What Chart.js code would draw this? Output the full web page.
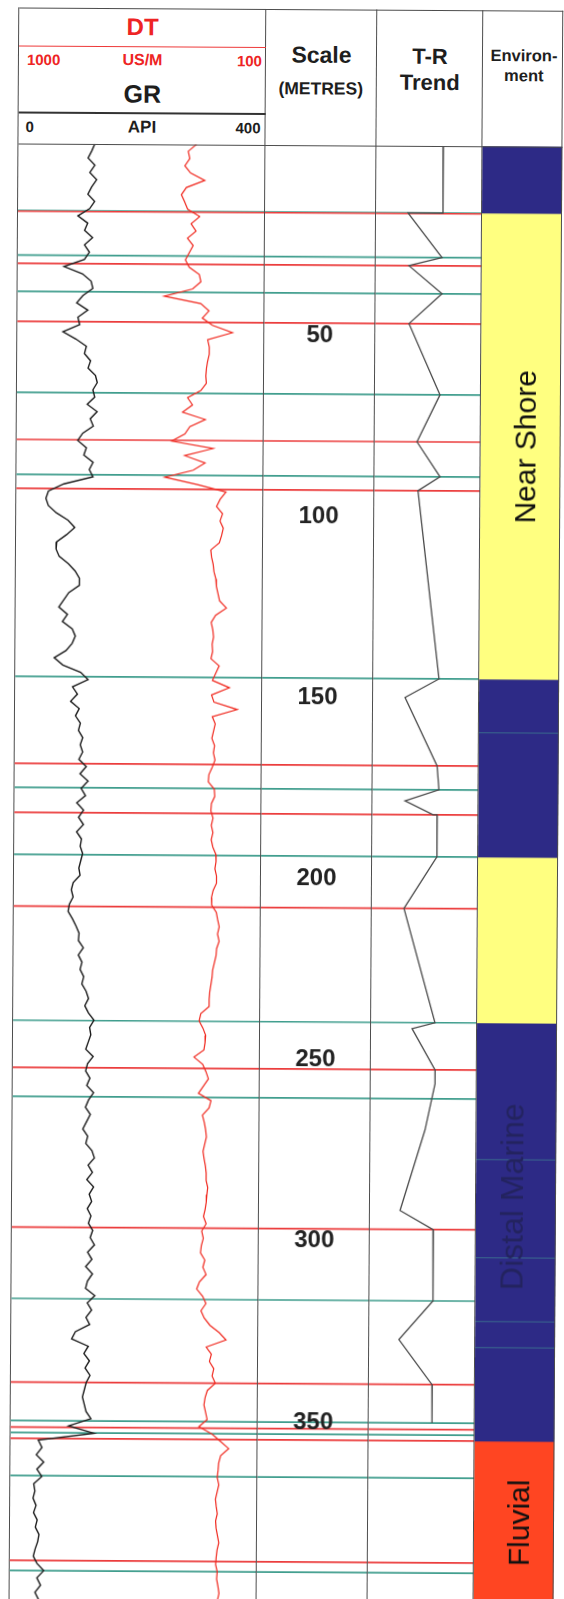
<!DOCTYPE html>
<html>
<head>
<meta charset="utf-8">
<script src="https://cdn.jsdelivr.net/npm/chart.js@4.4.1/dist/chart.umd.min.js"></script>
<style>
  html, body { margin: 0; padding: 0; background: #fff; width: 564px; height: 1599px; overflow: hidden; }
  #sheet {
    position: absolute; left: 0; top: 0; width: 564px; height: 1660px;
    transform: rotate(0.35deg); transform-origin: 282px 870px;
    font-family: "Liberation Sans", Arial, sans-serif; font-weight: bold; color: #1e1e1e;
  }
  .v { position: absolute; width: 0; border-left: 1.5px solid #4d4d4d; }
  .h { position: absolute; height: 0; border-top: 1.5px solid #4d4d4d; }
  .t { position: absolute; white-space: nowrap; line-height: 1; transform: translate(-50%, -50%); }
  .tl { position: absolute; white-space: nowrap; line-height: 1; transform: translateY(-50%); }
  .tr { position: absolute; white-space: nowrap; line-height: 1; transform: translate(-100%, -50%); }
  .red { color: #ee2424; }
  canvas { position: absolute; }
</style>
</head>
<body>
<div id="sheet">
  <!-- header -->
  <div class="t red" style="left:137.5px; top:28px; font-size:24px;">DT</div>
  <div class="tl red" style="left:22px; top:61px; font-size:15px;">1000</div>
  <div class="t red" style="left:137.5px; top:61px; font-size:16px;">US/M</div>
  <div class="tr red" style="left:257px; top:61px; font-size:15px;">100</div>
  <div class="t" style="left:137.5px; top:95px; font-size:25px;">GR</div>
  <div class="tl" style="left:21px; top:127.5px; font-size:15px;">0</div>
  <div class="t" style="left:137.5px; top:127.5px; font-size:17px;">API</div>
  <div class="tr" style="left:256px; top:127.5px; font-size:15px;">400</div>
  <div class="t" style="left:316.5px; top:55px; font-size:23px;">Scale</div>
  <div class="t" style="left:316px; top:89px; font-size:17.5px;">(METRES)</div>
  <div class="t" style="left:425px; top:56px; font-size:22px;">T-R</div>
  <div class="t" style="left:425px; top:82px; font-size:22px;">Trend</div>
  <div class="t" style="left:519px; top:53.5px; font-size:16.5px;">Environ-</div>
  <div class="t" style="left:519px; top:73.5px; font-size:16.5px;">ment</div>
</div>

<script>
// ---- data read off the log ----
// log samples: depth of first sample and sample step (metres)
const logTopDepth = -2;
const logStep = 2;

// GR, API
const grApi = [
  124,119,113,124,116,127,119,113,124,116,97,113,108,121,108,116,108,75,105,119,122,106,96,114,98,101,74,95,112,109,119,115,127,130,123,126,114,130,119,124,107,99,113,109,124,118,124,77,52,
  48,52,65,84,95,82,66,65,70,85,96,103,103,86,78,70,84,76,92,97,92,82,63,77,106,118,93,101,90,104,98,106,103,110,106,110,104,116,106,119,108,115,101,112,104,112,101,109,107,
  111,108,105,107,96,93,96,90,88,95,101,106,105,113,105,111,108,114,111,118,122,116,122,131,124,126,122,118,130,121,118,125,120,131,123,118,126,120,114,122,119,129,133,123,130,121,132,125,129,122,
  128,124,131,127,134,123,130,120,131,123,120,135,123,130,121,127,104,98,125,118,127,120,128,122,119,116,119,122,130,94,135,45,51,42,54,43,51,38,40,37,42,38,44,41,47,45,41,38,44,55,44,50,41,47,44,48,45
];

// DT, us/m
const dtUsm = [
  350,381,375,393,372,320,387,405,393,382,338,369,351,382,361,375,389,375,338,332,362,465,332,302,326,289,216,306,300,300,306,310,312,310,330,378,360,396,313,369,387,435,284,387,313,356,459,340,236,
  257,270,248,257,245,251,259,290,287,281,278,271,269,263,257,232,271,287,281,278,283,281,287,257,269,281,219,284,275,190,281,270,276,282,272,276,270,280,292,294,272,270,282,284,276,282,276,282,276,
  265,264,268,262,262,274,280,279,262,257,251,257,251,260,262,268,274,276,280,284,286,286,316,322,308,298,300,304,340,308,296,287,305,323,277,284,308,301,296,293,299,305,301,296,293,293,287,290,292,296,
  302,292,308,302,309,312,296,303,291,315,325,303,291,309,297,276,242,217,289,270,277,261,267,255,284,292,296,290,284,314,266,235,205,234,241,243,246,240,246,252,249,245,251,249,244,239,245,248,250,244,246,241,237,243,240,245,242
];

// T-R trend curve (depth m, trend position 0 = transgressive .. 100 = regressive)
const trDepth = [-1.9,16.6,16.6,28.9,31.2,38.9,47.2,66.8,79.8,89.4,93.3,145.2,150.4,169.2,175.8,178.9,182.7,182.7,194.3,208.6,240.1,241.8,253.1,257.0,269.7,292.0,297.2,316.9,327.6,340.0,350.6];
const trValue = [62.8,63.2,30.2,62.5,31.4,62.7,31.8,61.4,40.0,61.9,41.2,62.1,30.2,60.8,62.7,30.8,57.3,61.0,61.2,30.4,60.3,38.7,60.6,60.7,51.5,28.4,59.6,60.0,28.1,59.5,59.8];

// correlation surfaces (depth m)
const redSurfaces = [16.8,31.2,47.2,79.8,93.3,169.2,182.7,208.6,253.1,297.2,340.0,352.4,355.5,389.2];
const tealSurfaces = [16.6,28.9,38.9,66.8,89.4,145.2,175.8,194.3,240.1,261.1,316.9,350.6,353.9,365.8,392.0];

// depth scale labels
const depthTicks = [50,100,150,200,250,300,350];

// environment intervals
const envTop = [-1.9,16.6,145.2,194.3,240.1,355.5];
const envBase = [16.6,145.2,194.3,240.1,355.5,406.6];
const envType = ['marine','shore','marine','shore','marine','fluvial'];
const envLabels = ['','Near Shore','','','Distal Marine','Fluvial'];
const envLabelAt = [null,81,null,null,288,378];
const envFaintLines = [160.0,277.8,304.9,322.5,329.7];

// ---- layout ----
const COL = { L: 14, A: 261, B: 372, C: 478, R: 558 };
const HEAD_TOP = 9, HEAD_BOTTOM = 146, PLOT_TOP = 145, PLOT_H = 1480;
const depthMin = -1.9, depthMax = 406.6;
const envColors = { marine: '#2d2a86', shore: '#ffff80', fluvial: '#ff4522' };

const sheet = document.getElementById('sheet');

function makeCanvas(left, width) {
  const cv = document.createElement('canvas');
  cv.width = width;
  cv.height = PLOT_H;
  cv.style.left = left + 'px';
  cv.style.top = PLOT_TOP + 'px';
  cv.style.width = width + 'px';
  cv.style.height = PLOT_H + 'px';
  sheet.appendChild(cv);
  return cv;
}

function depthScale() {
  return { type: 'linear', reverse: true, min: depthMin, max: depthMax, display: false };
}

function baseOptions(extraScales, indexAxis) {
  return {
    indexAxis: indexAxis || 'y',
    responsive: false,
    animation: false,
    devicePixelRatio: 1,
    events: [],
    layout: { padding: 0 },
    plugins: { legend: { display: false }, tooltip: { enabled: false } },
    scales: Object.assign({ y: depthScale() }, extraScales),
  };
}

const surfacePlugin = {
  id: 'surfaces',
  beforeDatasetsDraw(chart) {
    const { ctx, chartArea, scales: { y } } = chart;
    ctx.save();
    ctx.lineWidth = 1.7;
    [[tealSurfaces, '#3f9d8d'], [redSurfaces, '#eb3c3c']].forEach(([list, color]) => {
      ctx.strokeStyle = color;
      list.forEach((d) => {
        const py = y.getPixelForValue(d);
        ctx.beginPath();
        ctx.moveTo(chartArea.left, py);
        ctx.lineTo(chartArea.right, py);
        ctx.stroke();
      });
    });
    ctx.restore();
  },
};

const depthLabelPlugin = {
  id: 'depthLabels',
  afterDraw(chart) {
    const { ctx, chartArea, scales: { y } } = chart;
    ctx.save();
    ctx.font = 'bold 24px "Liberation Sans", Arial, sans-serif';
    ctx.fillStyle = '#222';
    ctx.textAlign = 'center';
    ctx.textBaseline = 'alphabetic';
    const cx = (chartArea.left + chartArea.right) / 2;
    depthTicks.forEach((d) => ctx.fillText(String(d), cx, y.getPixelForValue(d) + 8.6));
    ctx.restore();
  },
};

const envTextPlugin = {
  id: 'envText',
  afterDatasetsDraw(chart) {
    const { ctx, chartArea, scales: { y } } = chart;
    ctx.save();
    ctx.lineWidth = 1;
    ctx.strokeStyle = 'rgba(70,160,150,0.55)';
    envFaintLines.forEach((d) => {
      const py = y.getPixelForValue(d);
      ctx.beginPath();
      ctx.moveTo(chartArea.left, py);
      ctx.lineTo(chartArea.right, py);
      ctx.stroke();
    });
    envLabels.forEach((txt, i) => {
      if (!txt) return;
      const marine = envType[i] === 'marine';
      const size = marine ? 32 : 30;
      ctx.save();
      ctx.translate(chartArea.left + (marine ? 47 : 55), y.getPixelForValue(envLabelAt[i]));
      ctx.rotate(-Math.PI / 2);
      ctx.font = `${size}px "Liberation Sans", Arial, sans-serif`;
      ctx.fillStyle = marine ? '#23235f' : '#111';
      ctx.textAlign = 'center';
      ctx.textBaseline = 'alphabetic';
      ctx.fillText(txt, 0, 0);
      ctx.restore();
    });
    ctx.restore();
  },
};

const sampleDepth = (i) => logTopDepth + i * logStep;

// GR + DT track
new Chart(makeCanvas(COL.L, COL.A - COL.L), {
  type: 'line',
  data: {
    datasets: [
      {
        label: 'GR',
        data: grApi.map((v, i) => ({ x: v, y: sampleDepth(i) })),
        xAxisID: 'xGR', yAxisID: 'y',
        borderColor: '#1c1c1c', borderWidth: 1.4, pointRadius: 0, tension: 0,
      },
      {
        label: 'DT',
        data: dtUsm.map((v, i) => ({ x: v, y: sampleDepth(i) })),
        xAxisID: 'xDT', yAxisID: 'y',
        borderColor: '#f0281e', borderWidth: 1.2, pointRadius: 0, tension: 0,
      },
    ],
  },
  options: baseOptions({
    xGR: { type: 'linear', min: 0, max: 400, display: false },
    xDT: { type: 'linear', min: 100, max: 1000, reverse: true, display: false },
  }),
  plugins: [surfacePlugin],
});

// depth scale column
new Chart(makeCanvas(COL.A, COL.B - COL.A), {
  type: 'line',
  data: { datasets: [] },
  options: baseOptions({ x: { type: 'linear', min: 0, max: 1, display: false } }),
  plugins: [surfacePlugin, depthLabelPlugin],
});

// T-R trend column
new Chart(makeCanvas(COL.B, COL.C - COL.B), {
  type: 'line',
  data: {
    datasets: [{
      label: 'T-R',
      data: trValue.map((v, i) => ({ x: v, y: trDepth[i] })),
      xAxisID: 'xTR', yAxisID: 'y',
      borderColor: '#4a4a4a', borderWidth: 1.3, pointRadius: 0, tension: 0,
    }],
  },
  options: baseOptions({ xTR: { type: 'linear', min: 0, max: 100, display: false } }),
  plugins: [surfacePlugin],
});

// environment column
new Chart(makeCanvas(COL.C, COL.R - COL.C), {
  type: 'bar',
  data: {
    labels: ['env'],
    datasets: envTop.map((top, i) => ({
      label: envLabels[i] || envType[i],
      data: [[top, envBase[i]]],
      backgroundColor: envColors[envType[i]],
      borderWidth: 0,
      grouped: false,
      barPercentage: 1,
      categoryPercentage: 1,
    })),
  },
  options: baseOptions({ x: { type: 'category', display: false } }, 'x'),
  plugins: [envTextPlugin],
});

// frame lines
function line(cls, style, color, w) {
  const d = document.createElement('div');
  d.className = cls;
  Object.assign(d.style, style);
  if (color) d.style[cls === 'v' ? 'borderLeftColor' : 'borderTopColor'] = color;
  if (w) d.style[cls === 'v' ? 'borderLeftWidth' : 'borderTopWidth'] = w + 'px';
  sheet.appendChild(d);
}
[COL.L, COL.A, COL.B, COL.C, COL.R].forEach((x) => {
  line('v', { left: (x - 0.75) + 'px', top: HEAD_TOP + 'px', height: (1660 - HEAD_TOP) + 'px' });
});
line('h', { left: COL.L + 'px', width: (COL.R - COL.L) + 'px', top: HEAD_TOP + 'px' });
line('h', { left: COL.L + 'px', width: (COL.R - COL.L) + 'px', top: (HEAD_BOTTOM - 1) + 'px' });
line('h', { left: COL.L + 'px', width: (COL.A - COL.L) + 'px', top: '47px' }, '#ee3a3a', 1.6);
line('h', { left: COL.L + 'px', width: (COL.A - COL.L) + 'px', top: '113px' }, '#333', 2);
</script>
</body>
</html>
